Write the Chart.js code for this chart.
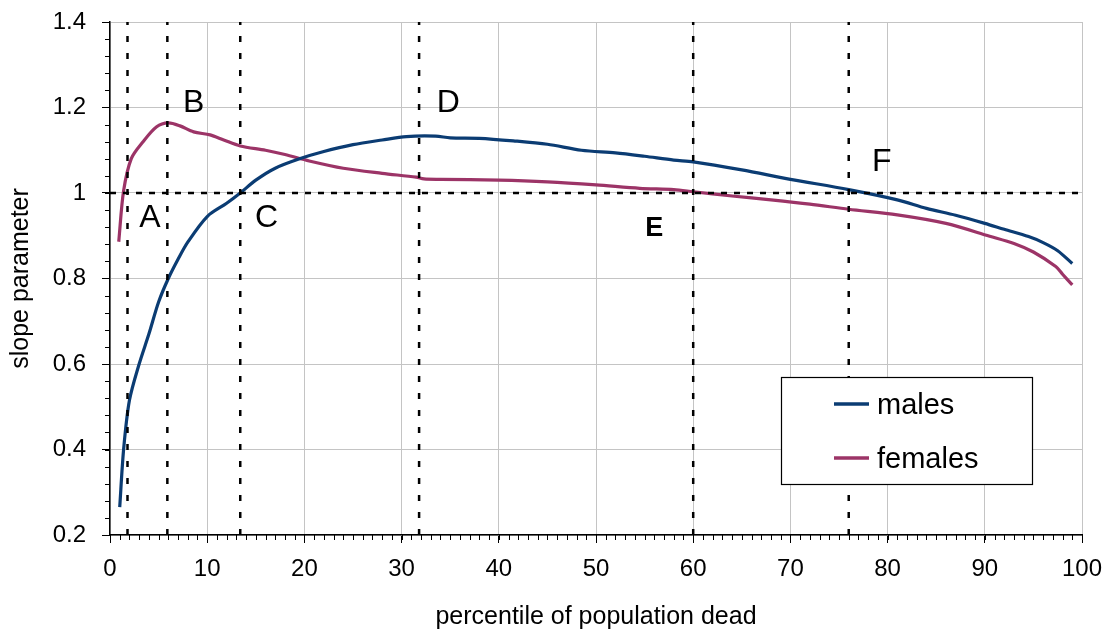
<!DOCTYPE html>
<html><head><meta charset="utf-8">
<script src="https://cdn.jsdelivr.net/npm/chart.js@4.4.1/dist/chart.umd.min.js"></script>
<style>html,body{margin:0;padding:0;background:#fff;}#wrap{width:1105px;height:632px;}</style>
</head><body><div id="wrap"><canvas id="c" width="1105" height="632"></canvas></div>
<script>
// ---- data ----
const malesX = [1, 1.4, 2, 3, 4, 5, 6, 7, 8, 10, 12, 13.4, 15, 17, 19.5, 22, 25, 28, 30.5, 33.5, 35, 38, 41.5, 45, 48.5, 52, 55, 58, 60, 65, 70, 76, 81, 84, 87, 90, 92, 94.5, 96, 97.5, 99];
const malesY = [0.265, 0.40, 0.515, 0.60, 0.67, 0.745, 0.80, 0.845, 0.885, 0.945, 0.976, 1.0, 1.03, 1.058, 1.08, 1.097, 1.113, 1.124, 1.132, 1.133, 1.129, 1.128, 1.122, 1.114, 1.10, 1.094, 1.086, 1.077, 1.073, 1.054, 1.032, 1.008, 0.984, 0.964, 0.948, 0.929, 0.915, 0.898, 0.884, 0.865, 0.835];
const femalesX = [0.9, 1.4, 2.2, 3.4, 4.8, 6, 7.2, 8.6, 10.3, 11.7, 13.4, 16, 18, 20.5, 24, 28, 31.5, 32.3, 34, 40, 45, 50, 54.5, 58, 60, 64, 68, 72, 76, 81, 86, 90.5, 93, 95, 97.3, 98, 99];
const femalesY = [0.886, 1.005, 1.081, 1.12, 1.155, 1.164, 1.157, 1.143, 1.136, 1.124, 1.11, 1.10, 1.09, 1.075, 1.058, 1.046, 1.037, 1.033, 1.032, 1.030, 1.026, 1.019, 1.011, 1.008, 1.003, 0.993, 0.984, 0.974, 0.962, 0.949, 0.929, 0.899, 0.882, 0.862, 0.828, 0.81, 0.785];
const markerX = [1.8, 5.9, 13.4, 31.8, 60, 76];
const thresholdY = 1.0;
const letterText = ['A', 'B', 'C', 'D', 'E', 'F'];
const letterX = [4.1, 8.6, 16.1, 34.8, 56, 79.4];
const letterY = [0.942, 1.21, 0.942, 1.21, 0.918, 1.073];
const letterBold = [false, false, false, false, true, false];
const seriesNames = ['males', 'females'];
const xRange = [0, 100], xStep = 10, xMinor = 1;
const yRange = [0.2, 1.4], yStep = 0.2, yMinor = 0.04;

const FONT = "'Liberation Sans', Arial, sans-serif";
const colMales = '#0b3c73';
const colFemales = '#9c3467';

const pts = (xs, ys) => xs.map((x, i) => ({x: x, y: ys[i]}));

const datasets = [];
markerX.forEach(v => datasets.push({
  label: 'marker', data: [{x: v, y: yRange[0]}, {x: v, y: yRange[1]}],
  borderColor: '#000', borderWidth: 2.5, borderDash: [6, 11], pointRadius: 0, order: 0, showLine: true
}));
datasets.push({label: 'threshold', data: [{x: xRange[0], y: thresholdY}, {x: xRange[1], y: thresholdY}],
  borderColor: '#000', borderWidth: 2.5, borderDash: [6, 7], pointRadius: 0, order: 0, showLine: true});
datasets.push({label: seriesNames[0], data: pts(malesX, malesY), borderColor: colMales, borderWidth: 3.2,
  pointRadius: 0, tension: 0.3, order: 1, showLine: true});
datasets.push({label: seriesNames[1], data: pts(femalesX, femalesY), borderColor: colFemales, borderWidth: 3.2,
  pointRadius: 0, tension: 0.3, order: 1, showLine: true});

const extras = {
  id: 'extras',
  afterDraw(chart) {
    const ctx = chart.ctx, xs = chart.scales.x, ys = chart.scales.y, a = chart.chartArea;
    ctx.save();
    ctx.strokeStyle = '#000'; ctx.lineWidth = 1;
    // minor ticks
    for (let v = yRange[0]; v <= yRange[1] + 1e-9; v += yMinor) {
      const p = Math.round(ys.getPixelForValue(v)) + 0.5;
      ctx.beginPath(); ctx.moveTo(a.left - 5, p); ctx.lineTo(a.left, p); ctx.stroke();
    }
    for (let v = xRange[0]; v <= xRange[1] + 1e-9; v += xMinor) {
      const p = Math.round(xs.getPixelForValue(v)) + 0.5;
      ctx.beginPath(); ctx.moveTo(p, a.bottom); ctx.lineTo(p, a.bottom + 5); ctx.stroke();
    }
    // letters
    ctx.fillStyle = '#000'; ctx.textAlign = 'center'; ctx.textBaseline = 'middle';
    letterText.forEach((t, i) => {
      ctx.font = (letterBold[i] ? 'bold 27px ' : '32px ') + FONT;
      ctx.fillText(t, xs.getPixelForValue(letterX[i]), ys.getPixelForValue(letterY[i]));
    });
    // legend
    const bx = 781, by = 377, bw = 251, bh = 107;
    ctx.fillStyle = '#fff'; ctx.fillRect(bx, by, bw, bh);
    ctx.lineWidth = 1.2; ctx.strokeStyle = '#000'; ctx.strokeRect(bx + 0.5, by + 0.5, bw, bh);
    const rows = [[seriesNames[0], colMales, 404], [seriesNames[1], colFemales, 458]];
    ctx.textAlign = 'left'; ctx.font = '29px ' + FONT;
    rows.forEach(r => {
      ctx.strokeStyle = r[1]; ctx.lineWidth = 3.5;
      ctx.beginPath(); ctx.moveTo(834, r[2]); ctx.lineTo(869, r[2]); ctx.stroke();
      ctx.fillStyle = '#000'; ctx.fillText(r[0], 877, r[2] + 2);
    });
    ctx.restore();
  }
};

new Chart(document.getElementById('c'), {
  type: 'scatter',
  data: {datasets: datasets},
  plugins: [extras],
  options: {
    responsive: false, animation: false, devicePixelRatio: 1,
    layout: {padding: {top: 22, right: 23, left: 0, bottom: 0}},
    plugins: {legend: {display: false}, tooltip: {enabled: false}},
    scales: {
      x: {
        type: 'linear', min: xRange[0], max: xRange[1],
        afterFit: s => { s.height = 97; s.paddingLeft = 0; s.paddingRight = 0; },
        ticks: {stepSize: xStep, color: '#000', font: {family: FONT, size: 24}, padding: 12, maxRotation: 0},
        grid: {color: '#c4c4c4', lineWidth: 1, tickColor: '#000', tickLength: 8},
        border: {color: '#000', width: 1.5},
        title: {display: true, text: 'percentile of population dead', color: '#000',
          font: {family: FONT, size: 25}, padding: {top: 0, bottom: 0}}
      },
      y: {
        type: 'linear', min: yRange[0], max: yRange[1],
        afterFit: s => { s.width = 110; s.paddingTop = 0; s.paddingBottom = 0; },
        ticks: {stepSize: yStep, color: '#000', font: {family: FONT, size: 24}, padding: 16,
          callback: v => String(+v.toFixed(1))},
        grid: {color: '#c4c4c4', lineWidth: 1, tickColor: '#000', tickLength: 8},
        border: {color: '#000', width: 1.5},
        title: {display: true, text: 'slope parameter', color: '#000',
          font: {family: FONT, size: 25}, padding: {top: 6, bottom: 0}}
      }
    }
  }
});
</script></body></html>
